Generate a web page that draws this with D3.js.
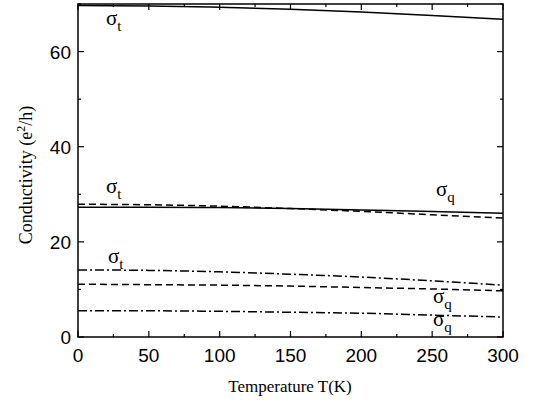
<!DOCTYPE html>
<html><head><meta charset="utf-8">
<script src="https://cdn.jsdelivr.net/npm/d3@7"></script>
<style>body{margin:0;background:#fff}</style>
</head><body>
<svg id="c" width="534" height="407"></svg>
<script>
var temps = [0, 50, 100, 150, 200, 250, 300];
var topSolid = [69.7, 69.6, 69.3, 68.9, 68.3, 67.6, 66.8];
var midSolid = [27.3, 27.3, 27.2, 27.0, 26.7, 26.4, 26.0];
var midDashed = [27.9, 27.8, 27.5, 27.0, 26.4, 25.7, 25.0];
var lowDashDot = [14.1, 14.0, 13.7, 13.2, 12.6, 11.8, 10.9];
var lowDashed = [11.1, 11.0, 10.9, 10.7, 10.4, 10.1, 9.7];
var botDashDot = [5.5, 5.5, 5.4, 5.2, 5.0, 4.6, 4.2];
var xTicks = [0, 50, 100, 150, 200, 250, 300];
var yTicks = [0, 20, 40, 60];

var svg = d3.select('#c');
var x = d3.scaleLinear().domain([0, 300]).range([78, 503]);
var y = d3.scaleLinear().domain([0, 70]).range([337, 4]);

var series = [
  {v: topSolid, dash: null},
  {v: midSolid, dash: null},
  {v: midDashed, dash: '7,4'},
  {v: lowDashDot, dash: '9,3,2,3'},
  {v: lowDashed, dash: '7,4'},
  {v: botDashDot, dash: '9,3,2,3'}
];
var line = d3.line().x((d, i) => x(temps[i])).y(d => y(d)).curve(d3.curveMonotoneX);
series.forEach(s => {
  svg.append('path').attr('d', line(s.v)).attr('fill', 'none').attr('stroke', '#000')
    .attr('stroke-width', 1.5).attr('stroke-dasharray', s.dash);
});

svg.append('rect').attr('x', 78).attr('y', 4).attr('width', 425).attr('height', 333)
  .attr('fill', 'none').attr('stroke', '#000').attr('stroke-width', 1.5);

var g = svg.append('g').attr('stroke', '#000').attr('stroke-width', 1.2);
d3.range(0, 301, 25).forEach(t => {
  var len = t % 50 === 0 ? 6 : 3;
  g.append('line').attr('x1', x(t)).attr('x2', x(t)).attr('y1', 337).attr('y2', 337 - len);
  g.append('line').attr('x1', x(t)).attr('x2', x(t)).attr('y1', 4).attr('y2', 4 + len);
});
d3.range(0, 71, 10).forEach(v => {
  var len = v % 20 === 0 ? 6 : 3;
  g.append('line').attr('y1', y(v)).attr('y2', y(v)).attr('x1', 78).attr('x2', 78 + len);
  g.append('line').attr('y1', y(v)).attr('y2', y(v)).attr('x1', 503).attr('x2', 503 - len);
});

svg.selectAll('.xt').data(xTicks).enter().append('text')
  .attr('x', d => x(d)).attr('y', 362).attr('text-anchor', 'middle')
  .attr('font-family', 'Liberation Sans, Arial').attr('font-size', 19).text(d => d);
svg.selectAll('.yt').data(yTicks).enter().append('text')
  .attr('x', 71).attr('y', d => y(d) + 7).attr('text-anchor', 'end')
  .attr('font-family', 'Liberation Sans, Arial').attr('font-size', 19).text(d => d);

svg.append('text').attr('x', 290).attr('y', 392).attr('text-anchor', 'middle')
  .attr('font-family', 'Liberation Serif, Times New Roman').attr('font-size', 17).text('Temperature T(K)');
var yl = svg.append('text').attr('transform', 'translate(32,175) rotate(-90)').attr('text-anchor', 'middle')
  .attr('font-family', 'Liberation Serif, Times New Roman').attr('font-size', 18);
yl.append('tspan').text('Conductivity (e');
yl.append('tspan').attr('dy', -7).attr('font-size', 12).text('2');
yl.append('tspan').attr('dy', 7).text('/h)');

var labels = [
  {x: 106, y: 25, s: 't'}, {x: 106, y: 193, s: 't'}, {x: 108, y: 263, s: 't'},
  {x: 436, y: 196, s: 'q'}, {x: 433, y: 303, s: 'q'}, {x: 433, y: 326, s: 'q'}
];
labels.forEach(l => {
  var t = svg.append('text').attr('x', l.x).attr('y', l.y)
    .attr('font-family', 'Liberation Serif, Times New Roman').attr('font-size', 21);
  t.append('tspan').text('σ');
  t.append('tspan').attr('dy', 6).attr('font-size', 15).text(l.s);
});
</script>
</body></html>
